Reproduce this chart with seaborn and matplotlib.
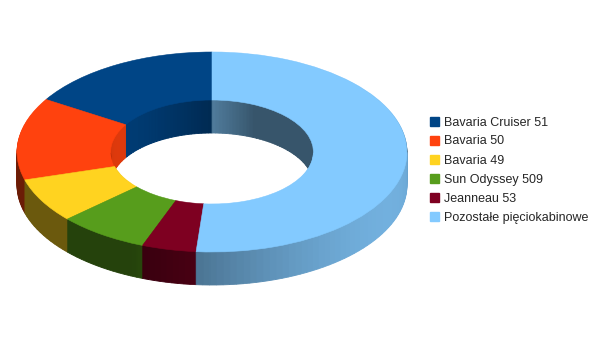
import numpy as np
import matplotlib
matplotlib.use("Agg")
import matplotlib.pyplot as plt
import seaborn as sns
from matplotlib.patches import Patch
from matplotlib.colors import to_rgb

labels = ["Bavaria Cruiser 51", "Bavaria 50", "Bavaria 49", "Sun Odyssey 509",
          "Jeanneau 53", "Pozostałe pięciokabinowe"]
values = [16.2, 13.3, 7.2, 7.5, 4.5, 51.3]
colors = ["#004586", "#ff420e", "#ffd320", "#579d1c", "#7e0021", "#83caff"]

sns.set_theme(style="white")
plt.rcParams["font.family"] = ["Liberation Sans", "DejaVu Sans"]

W, H = 605, 340
fig = plt.figure(figsize=(W / 100, H / 100), dpi=100)
ax = fig.add_axes([0, 0, 1, 1])

cx_px, cy_px = 212, 152   # ellipse centre, pixels from left / top
rx_px, ry_px = 195, 100   # ellipse radii in pixels
depth_px = 33
hole = 0.52

# subdivide slices for angle-dependent side shading
total = sum(values)
sub_vals, sub_cols = [], []
start = 90.0
step = 2.0
for v, c in zip(values, colors):
    span = v / total * 360
    k = max(1, int(np.ceil(span / step)))
    base = np.array(to_rgb(c))
    for i in range(k):
        a_mid = start + span * (i + 0.5) / k
        normal = a_mid if np.sin(np.deg2rad(a_mid)) < 0 else a_mid + 180
        f = 0.42 + 0.45 * max(0.0, np.cos(np.deg2rad(normal + 25)))
        sub_vals.append(span / k)
        sub_cols.append(tuple(np.clip(base * f, 0, 1)))
    start += span

for d in range(depth_px, 0, -1):
    wedges, _ = ax.pie(sub_vals, colors=sub_cols, startangle=90, counterclock=True,
                       center=(0, -d / ry_px), radius=1,
                       wedgeprops=dict(width=1 - hole, linewidth=0))
    for w in wedges:
        w.set_edgecolor(w.get_facecolor())
        w.set_linewidth(0.6)

wedges, _ = ax.pie(values, colors=colors, startangle=90, counterclock=True,
                   center=(0, 0), radius=1,
                   wedgeprops=dict(width=1 - hole, linewidth=0))
for w in wedges:
    w.set_edgecolor(w.get_facecolor())
    w.set_linewidth(0.4)

ax.set_aspect("auto")
ax.set_xlim(-cx_px / rx_px, (W - cx_px) / rx_px)
ax.set_ylim(-(H - cy_px) / ry_px, cy_px / ry_px)
ax.axis("off")

handles = [Patch(facecolor=c, edgecolor=c, label=l) for c, l in zip(colors, labels)]
fig.legend(handles=handles, loc="center left", bbox_to_anchor=(430 / W, 1 - 170 / H),
           frameon=False, fontsize=9, handlelength=0.7, handleheight=0.7,
           handletextpad=0.4, labelspacing=0.56, borderpad=0, borderaxespad=0)

fig.savefig("out.png", dpi=100)
